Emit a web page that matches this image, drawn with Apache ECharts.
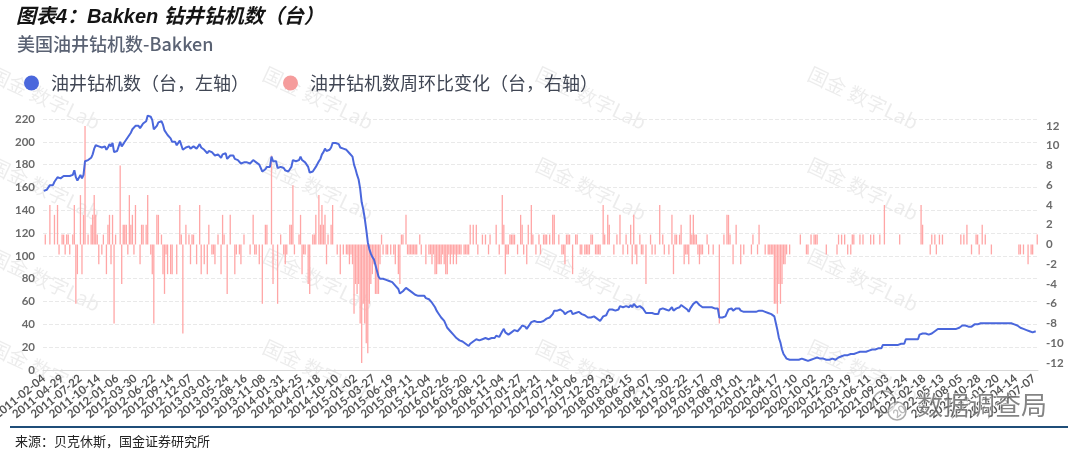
<!DOCTYPE html>
<html><head><meta charset="utf-8">
<script src="https://cdn.jsdelivr.net/npm/echarts@6/dist/echarts.min.js"></script>
<style>html,body{margin:0;padding:0;background:#fff;}#c{width:1080px;height:453px;}</style>
</head><body><div id="c"></div>
<script>
// ---- categories (weekly report dates) ----
const startDate = '2011-02-04';
const weekCount = 651;
const dateOverrides = {'2020-12-25':'2020-12-23','2021-11-26':'2021-11-24'};
const labelEvery = 12;

// ---- rig count (left axis), by year ----
const rig2011 = [157,158,158,158,162,162,162,165,165,169,168,168,169,170,169,170,171,170,170,171,175,169,166,166,171,168,171,183,183,184,184,186,189,194,197,198,196,196,195,196,196,193,195,198,196,199,191,192];
const rig2012 = [192,192,200,196,198,200,202,201,206,208,211,210,214,214,214,212,214,216,216,218,223,223,222,219,211,211,214,217,217,218,215,210,209,206,206,203,200,200,200,197,197,201,202,193,193,195,195,196,194,195,196,196];
const rig2013 = [194,194,198,195,195,193,193,190,192,192,191,190,188,188,189,189,186,189,190,190,185,185,188,188,188,185,184,184,183,181,181,182,182,182,182,181,181,184,183,182,182,180,180,174,174,176,178,178,178,187,183,183];
const rig2014 = [183,177,177,178,178,177,175,174,174,176,178,184,183,183,183,184,187,184,183,182,182,178,173,173,174,175,178,178,183,185,189,191,194,192,193,193,195,199,199,199,198,198,195,195,194,194,193,192,190,189,187,180];
const rig2015 = [176,171,167,159,147,141,133,123,112,106,102,99,97,92,87,82,80,81,80,80,79,78,78,77,77,76,74,74,71,67,68,69,69,72,71,70,69,68,67,66,65,65,66,65,65,65,63,63,62,61,59,58];
const rig2016 = [55,52,50,48,46,45,43,40,37,36,34,33,31,30,28,27,26,25,25,24,23,22,21,23,23,25,25,27,26,26,26,27,27,28,28,27,28,28,28,28,30,30,29,29,34,36,33,32,31,32,33,34,35];
const rig2017 = [35,34,34,37,39,38,38,36,38,38,42,43,43,42,42,43,42,42,43,44,45,45,46,46,49,52,52,52,53,53,52,51,49,50,51,52,52,49,49,50,51,51,50,49,49,48,47,46,45,46,47,47];
const rig2018 = [46,45,44,43,43,47,48,48,51,53,53,53,52,52,53,53,56,56,55,55,56,55,55,57,55,58,57,55,55,56,55,54,54,50,50,50,51,50,50,49,49,49,53,53,54,53,53,53,52,52,55,52];
const rig2019 = [53,54,54,55,57,57,55,54,53,51,54,55,58,59,60,59,57,56,55,55,55,56,55,55,55,54,54,54,54,46,46,46,47,47,50,53,54,54,52,52,54,54,54,52,52,51,51,51,51,51,50,51];
const rig2020 = [51,51,50,52,52,52,52,51,51,50,50,49,48,47,41,35,28,24,18,14,12,10,9,9,9,9,9,9,9,9,10,10,9,9,8,8,8,9,9,10,10,11,10,10,10,10,9,9,9,9,10];
const rig2021 = [10,10,9,10,11,11,12,12,13,12,13,13,14,14,14,15,15,15,16,16,16,16,16,17,17,18,18,18,18,18,19,19,19,22,22,22,22,22,22,22,22,22,22,22,23,23,23,23,27,27,27,27,27];
const rig2022 = [27,27,27,27,31,32,32,32,32,32,31,32,32,32,34,35,36,36,36,36,36,36,36,36,36,36,36,36,36,36,37,38,39,39,39,38,38,38,38,39,40,41,40,41,41,41,41,41,41,41,41,41];
const rig2023 = [41,41,41,41,41,41,41,41,41,41,41,41,41,41,40,40,39,38,37,37,36,36,35,34,34,34,33,33,34];

// ---- weekly change (right axis), by year ----
const chg2011 = [0,1,0,0,4,0,0,3,0,4,-1,0,1,1,-1,1,1,-1,0,1,4,-6,-3,0,5,-3,3,12,0,1,0,2,3,5,3,1,-2,0,-1,1,0,-3,2,3,-2,3,-8,1];
const chg2012 = [0,0,8,-4,2,2,2,-1,5,2,3,-1,4,0,0,-2,2,2,0,2,5,0,-1,-3,-8,0,3,3,0,1,-3,-5,-1,-3,0,-3,-3,0,0,-3,0,4,1,-9,0,2,0,1,-2,1,1,0];
const chg2013 = [-2,0,4,-3,0,-2,0,-3,2,0,-1,-1,-2,0,1,0,-3,3,1,0,-5,0,3,0,0,-3,-1,0,-1,-2,0,1,0,0,0,-1,0,3,-1,-1,0,-2,0,-6,0,2,2,0,0,9,-4,0];
const chg2014 = [0,-6,0,1,0,-1,-2,-1,0,2,2,6,-1,0,0,1,3,-3,-1,-1,0,-4,-5,0,1,1,3,0,5,2,4,2,3,-2,1,0,2,4,0,0,-1,0,-3,0,-1,0,-1,-1,-2,-1,-2,-7];
const chg2015 = [-4,-5,-4,-8,-12,-6,-8,-10,-11,-6,-4,-3,-2,-5,-5,-5,-2,1,-1,0,-1,-1,0,-1,0,-1,-2,0,-3,-4,1,1,0,3,-1,-1,-1,-1,-1,-1,-1,0,1,-1,0,0,-2,0,-1,-1,-2,-1];
const chg2016 = [-3,-3,-2,-2,-2,-1,-2,-3,-3,-1,-2,-1,-2,-1,-2,-1,-1,-1,0,-1,-1,-1,-1,2,0,2,0,2,-1,0,0,1,0,1,0,-1,1,0,0,0,2,0,-1,0,5,2,-3,-1,-1,1,1,1,1];
const chg2017 = [0,-1,0,3,2,-1,0,-2,2,0,4,1,0,-1,0,1,-1,0,1,1,1,0,1,0,3,3,0,0,1,0,-1,-1,-2,1,1,1,0,-3,0,1,1,0,-1,-1,0,-1,-1,-1,-1,1,1,0];
const chg2018 = [-1,-1,-1,-1,0,4,1,0,3,2,0,0,-1,0,1,0,3,0,-1,0,1,-1,0,2,-2,3,-1,-2,0,1,-1,-1,0,-4,0,0,1,-1,0,-1,0,0,4,0,1,-1,0,0,-1,0,3,-3];
const chg2019 = [1,1,0,1,2,0,-2,-1,-1,-2,3,1,3,1,1,-1,-2,-1,-1,0,0,1,-1,0,0,-1,0,0,0,-8,0,0,1,0,3,3,1,0,-2,0,2,0,0,-2,0,-1,0,0,0,0,-1,1];
const chg2020 = [0,0,-1,2,0,0,0,-1,0,-1,-1,-1,-1,-6,-6,-7,-4,-6,-4,-2,-2,-1,0,-1,0,0,0,0,0,0,1,0,0,0,-1,-1,0,1,0,1,1,1,0,0,0,0,0,-1,0,0,0,0];
const chg2021 = [0,0,-1,1,0,1,0,1,0,-1,0,-1,1,1,0,0,0,1,0,1,0,0,0,0,1,0,1,0,0,0,1,0,0,4,0,0,0,0,0,0,0,0,0,1,0,0,0,0,0,0,0,0,0];
const chg2022 = [0,0,0,0,4,2,0,0,0,0,-1,1,0,1,-1,0,1,0,1,0,0,0,0,0,0,0,0,0,0,0,1,0,1,0,2,0,0,-1,0,0,1,1,-1,0,2,0,1,0,0,0,-1,0];
const chg2023 = [0,0,0,0,0,0,0,0,0,0,0,0,0,0,0,0,-1,-1,0,-1,0,0,-2,0,-1,-1,0,0,1];

// ---- axis ticks / texts ----
const leftTicks = {min: 0, max: 220, interval: 20};
const rightTickValues = [-12,-10,-8,-6,-4,-2,0,2,4,6,8,10,12];
const seriesNames = ['油井钻机数（台，左轴）', '油井钻机数周环比变化（台，右轴）'];
const titleText = '图表4：Bakken 钻井钻机数（台）';
const subTitleText = '美国油井钻机数-Bakken';
const sourceText = '来源：贝克休斯，国金证券研究所';
const watermarkText = '国金 数字Lab';

const rigs = [].concat(rig2011,rig2012,rig2013,rig2014,rig2015,rig2016,rig2017,rig2018,rig2019,rig2020,rig2021,rig2022,rig2023);
const changes = [].concat(chg2011,chg2012,chg2013,chg2014,chg2015,chg2016,chg2017,chg2018,chg2019,chg2020,chg2021,chg2022,chg2023);

const dates = [];
(function(){
  const p = startDate.split('-').map(Number);
  const t0 = Date.UTC(p[0], p[1]-1, p[2]);
  for (let i = 0; i < weekCount; i++) {
    let s = new Date(t0 + i*7*86400000).toISOString().slice(0,10);
    if (dateOverrides[s]) s = dateOverrides[s];
    dates.push(s);
  }
})();

const wm = [];
[45,318,591,863].forEach(function(cx){
  [98,189,280,371].forEach(function(cy){
    wm.push({type:'text', x:cx, y:cy, rotation:-0.44, silent:true, z:0,
      style:{text:watermarkText, fill:'rgba(0,0,0,0.075)', font:'20px "Noto Sans CJK SC"', align:'center', verticalAlign:'middle'}});
  });
});

const chart = echarts.init(document.getElementById('c'), null, {renderer:'canvas'});
chart.setOption({
  animation:false,
  backgroundColor:'#fff',
  grid:{left:43, right:42, top:119, bottom:83, containLabel:false, outerBoundsMode:'none'},
  legend:{left:19, top:69, icon:'circle', itemWidth:15, itemHeight:15, itemGap:34,
    textStyle:{fontSize:18, color:'#404654', fontFamily:'"Noto Sans CJK SC"', padding:[0,0,0,7]},
    data:[{name:seriesNames[0], itemStyle:{color:'#4a67dc'}},{name:seriesNames[1], itemStyle:{color:'#f59c9c'}}]},
  xAxis:{type:'category', data:dates, boundaryGap:true,
    axisLine:{lineStyle:{color:'#d9d9d9', width:1}},
    axisTick:{show:false},
    axisLabel:{interval:0, hideOverlap:false,
      formatter:function(value, idx){ return idx % labelEvery === 0 ? value : ''; },
      rotate:39, fontSize:11.5, color:'#555', fontWeight:'bold', fontFamily:'Lato', margin:7}},
  yAxis:[
    {type:'value', min:leftTicks.min, max:leftTicks.max, interval:leftTicks.interval,
      axisLine:{show:false}, axisTick:{show:false},
      splitLine:{lineStyle:{color:'#e9e9e9', type:'dashed'}},
      axisLabel:{fontSize:11.5, color:'#6a6a6a', fontWeight:'bold', fontFamily:'Lato', margin:8}},
    {type:'value', min:-12.7, max:12.7, position:'right',
      axisLine:{show:false}, axisTick:{show:false}, splitLine:{show:false},
      axisLabel:{customValues:rightTickValues, fontSize:11.5, color:'#6a6a6a', fontWeight:'bold', fontFamily:'Lato', margin:8}}
  ],
  series:[
    {name:seriesNames[1], type:'bar', yAxisIndex:1, data:changes, barWidth:1.3, silent:true,
      itemStyle:{color:'#ffa6a6'}, z:2},
    {name:seriesNames[0], type:'line', yAxisIndex:0, data:rigs, showSymbol:false, silent:true, clip:false,
      lineStyle:{color:'#4a67dc', width:2}, itemStyle:{color:'#4a67dc'}, z:3}
  ],
  graphic:[].concat(wm, [
    {type:'text', x:16, y:17, z:10, style:{text:titleText, fill:'#141414', font:'italic bold 20px "Liberation Sans", "Noto Sans CJK SC"', verticalAlign:'middle'}},
    {type:'text', x:17, y:44, z:10, style:{text:subTitleText, fill:'#5a6273', font:'500 18px "Noto Sans CJK SC"', verticalAlign:'middle'}},
    {type:'rect', z:10, shape:{x:10, y:426, width:1058, height:2}, style:{fill:'#1f4e79'}},
    {type:'text', x:15, y:441, z:10, style:{text:sourceText, fill:'#222', font:'13px "Noto Sans CJK SC"', verticalAlign:'middle'}},
    {type:'text', x:917, y:405, z:10, silent:true, style:{text:'数据调查局', fill:'rgba(80,80,80,0.7)', stroke:'#fff', lineWidth:1, font:'26px "Noto Sans CJK SC"', verticalAlign:'middle'}},
    {type:'circle', z:10, silent:true, shape:{cx:884, cy:402, r:11}, style:{fill:'none', stroke:'rgba(90,90,90,0.5)', lineWidth:1.5}},
    {type:'circle', z:10, silent:true, shape:{cx:897, cy:411, r:9}, style:{fill:'rgba(255,255,255,0.6)', stroke:'rgba(90,90,90,0.5)', lineWidth:1.5}}
  ])
});
</script>
</body></html>
